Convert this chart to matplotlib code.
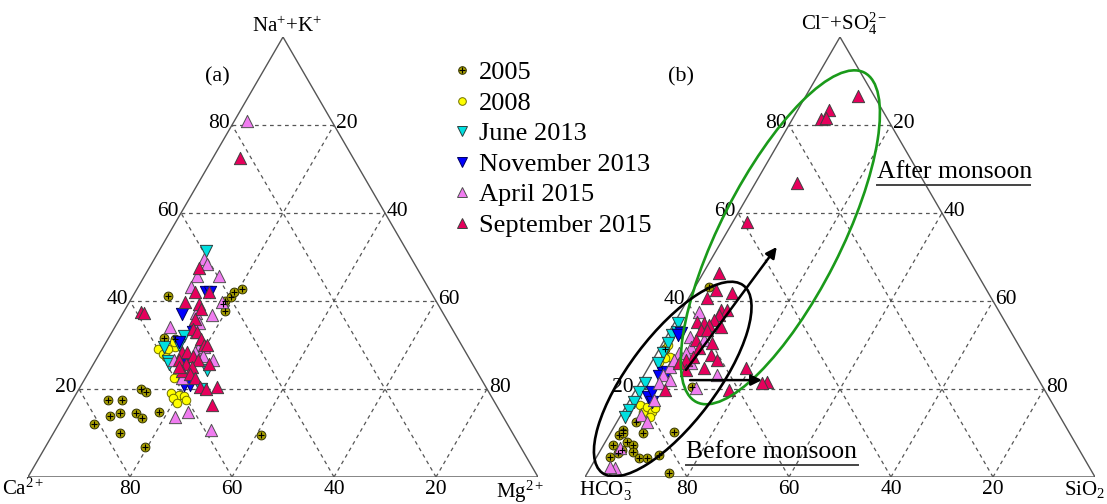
import numpy as np
import matplotlib
matplotlib.use('Agg')
import matplotlib.pyplot as plt
from matplotlib.lines import Line2D
from matplotlib.patches import Ellipse
from matplotlib.legend_handler import HandlerTuple

plt.rcParams['font.family'] = ['Liberation Serif', 'DejaVu Serif']
plt.rcParams['mathtext.fontset'] = 'custom'
plt.rcParams['mathtext.rm'] = 'Liberation Serif'
plt.rcParams['mathtext.it'] = 'Liberation Serif:italic'
plt.rcParams['mathtext.bf'] = 'Liberation Serif:bold'

# (a) cations, % of Na+K (top corner) and % of Mg (right corner)
nak_2005 = [41.1, 40.0, 40.9, 42.0, 42.7, 39.3, 37.7, 31.5, 31.3, 19.9, 19.4, 17.6, 17.4, 13.9, 14.6, 14.6, 13.5, 14.8, 12.1, 10.0, 6.8, 9.6]
mg_2005 = [6.9, 18.7, 19.4, 19.4, 20.6, 18.5, 19.7, 10.9, 13.1, 12.2, 13.5, 6.9, 9.8, 9.2, 10.8, 13.8, 15.6, 18.3, 6.8, 13.1, 19.6, 40.9]
nak_2008 = [29.0, 27.9, 27.2, 29.5, 22.6, 19.2, 18.7, 18.3, 18.0, 16.9, 17.6, 29.0, 30.6]
mg_2008 = [11.0, 12.5, 13.4, 14.0, 17.4, 18.5, 20.2, 21.5, 19.5, 20.7, 22.1, 12.9, 13.4]
nak_jun13 = [51.4, 29.5, 26.3, 25.6, 24.4, 19.9, 32.0, 30.1]
mg_jun13 = [9.2, 11.9, 14.3, 14.9, 22.9, 23.9, 14.6, 14.5]
nak_nov13 = [42.0, 37.0, 30.6, 21.0, 21.0, 26.0, 32.9, 42.0]
mg_nov13 = [13.9, 11.7, 14.3, 20.1, 21.2, 17.9, 15.9, 14.6]
nak_apr15 = [80.8, 49.5, 48.4, 45.7, 45.7, 43.2, 39.7, 36.8, 34.2, 37.2, 32.9, 30.6, 26.7, 26.7, 22.6, 13.7, 14.8, 10.7, 29.0, 29.5, 28.3, 35.0, 27.5]
mg_apr15 = [2.6, 9.7, 10.9, 10.2, 14.6, 10.3, 18.2, 17.6, 10.8, 14.4, 16.4, 18.5, 23.0, 15.3, 18.9, 21.9, 23.9, 30.6, 18.9, 19.8, 18.6, 16.0, 20.5]
nak_sep15 = [72.6, 47.5, 42.0, 42.0, 39.7, 39.3, 37.4, 37.2, 38.1, 35.8, 33.6, 32.9, 31.3, 30.1, 30.1, 28.3, 28.3, 27.4, 26.7, 26.7, 25.6, 25.1, 25.6, 24.0, 23.3, 22.6, 20.5, 19.9, 20.5, 16.4, 25.1]
mg_sep15 = [5.2, 9.7, 11.8, 14.5, 11.0, 13.8, 3.4, 4.2, 14.9, 14.9, 15.5, 16.6, 18.2, 19.4, 20.0, 16.0, 17.1, 18.6, 20.0, 16.2, 18.1, 19.7, 22.7, 18.2, 20.1, 21.5, 23.5, 25.0, 26.9, 27.8, 17.0]

# (b) anions, % of Cl+SO4 (top corner) and % of SiO2 (right corner)
cl_2005 = [12.5, 10.7, 9.5, 7.3, 8.0, 7.3, 6.1, 5.5, 5.7, 4.3, 4.3, 4.5, 5.0, 0.9, 10.2, 10.0, 43.2, 20.5, 29.1, 10.0]
si_2005 = [3.8, 2.1, 2.0, 1.9, 4.2, 5.8, 4.3, 3.7, 6.6, 8.5, 10.1, 2.6, 12.1, 16.1, 12.4, 6.3, 2.8, 10.7, 1.1, 2.4]
cl_2008 = [16.4, 14.8, 15.9, 14.8, 15.7, 13.6, 27.3, 27.0, 26.1, 30.0]
si_2008 = [2.5, 3.9, 4.3, 5.7, 5.8, 5.9, 3.0, 2.1, 1.5, 1.2]
cl_jun13 = [35.0, 33.0, 32.3, 30.5, 28.2, 25.9, 21.4, 19.3, 17.0, 15.2, 13.6]
si_jun13 = [0.8, 1.6, 1.0, 1.0, 1.2, 1.3, 1.0, 1.0, 1.1, 1.0, 1.0]
cl_nov13 = [32.7, 32.3, 23.6, 23.0, 18.2, 17.0, 19.3, 23.9]
si_nov13 = [2.5, 2.0, 3.4, 3.1, 3.2, 4.6, 3.4, 4.1]
cl_apr15 = [37.5, 31.8, 29.5, 28.2, 28.2, 23.2, 25.0, 23.2, 25.9, 14.1, 12.5, 2.0, 2.3, 6.6, 21.4, 22.0, 20.2, 31.1, 26.6, 17.5]
si_apr15 = [3.6, 4.6, 6.1, 4.4, 5.8, 14.3, 4.1, 3.6, 7.9, 4.0, 6.0, 4.8, 3.8, 3.5, 3.9, 5.6, 11.7, 7.8, 4.2, 4.8]
cl_sep15 = [86.6, 83.4, 81.4, 81.6, 66.8, 58.0, 46.4, 42.5, 41.8, 40.7, 38.0, 38.0, 36.8, 35.7, 35.2, 35.0, 34.5, 34.1, 33.4, 33.4, 31.1, 30.5, 29.3, 27.3, 26.6, 27.7, 26.6, 24.8, 24.3, 24.8, 21.6, 21.4, 19.8, 19.8, 25.9]
si_sep15 = [10.3, 6.1, 5.5, 6.4, 8.1, 2.8, 3.1, 4.4, 7.9, 3.5, 7.7, 8.9, 7.9, 7.5, 4.4, 5.9, 7.1, 9.7, 6.1, 7.3, 6.2, 9.6, 7.7, 7.5, 6.6, 10.9, 12.6, 11.0, 7.7, 19.2, 24.9, 24.0, 18.4, 5.7, 5.5]

labels = ['2005', '2008', 'June 2013', 'November 2013', 'April 2015', 'September 2015']
colors = ['#a89f00', '#ffff00', '#00e0e0', '#0000ff', '#f07cf0', '#e6005c']
edges = ['#333300', '#707000', '#2a4040', '#000060', '#505050', '#404040']
markers = ['o', 'o', 'v', 'v', '^', '^']
sizes = [40, 38, 78, 78, 78, 78]

H = 440 / 510.0  # triangle height / base, in pixels of the figure


def tern(top, right):
    t = np.asarray(top) / 100.0
    r = np.asarray(right) / 100.0
    return r + t / 2, t * H


def draw_frame(ax, left_name, right_name, top_name, lab_left_x, lab_right_x):
    ax.set_xlim(0, 1)
    ax.set_ylim(0, H)
    ax.axis('off')
    for k in [0.2, 0.4, 0.6, 0.8]:
        kw = dict(color='#555555', lw=0.9, ls=(0, (3, 3)), zorder=1)
        ax.plot([k / 2, 1 - k / 2], [k * H, k * H], **kw)
        ax.plot([k, k + (1 - k) / 2], [0, (1 - k) * H], **kw)
        ax.plot([1 - k, (1 - k) / 2], [0, (1 - k) * H], **kw)
        n = int(round(k * 100))
        ax.annotate(str(n), (k / 2, k * H), xytext=(-2, 1), textcoords='offset pixels',
                    ha='right', va='center', fontsize=15.5)
        ax.annotate(str(100 - n), (1 - k / 2, k * H), xytext=(2, 1), textcoords='offset pixels',
                    ha='left', va='center', fontsize=15.5)
        ax.annotate(str(100 - n), (k, 0), xytext=(0, -3), textcoords='offset pixels',
                    ha='center', va='top', fontsize=15.5)
    ax.plot([0, 1, 0.5, 0], [0, 0, H, 0], color='#555555', lw=1.0, zorder=1)
    ax.annotate(left_name, (lab_left_x, 0), xytext=(0, -2), textcoords='offset pixels',
                ha='center', va='top', fontsize=15, annotation_clip=False)
    ax.annotate(right_name, (lab_right_x, 0), xytext=(0, -2), textcoords='offset pixels',
                ha='center', va='top', fontsize=15, annotation_clip=False)
    ax.annotate(top_name, (0.5, H), xytext=(4, 0), textcoords='offset pixels',
                ha='center', va='bottom', fontsize=15)


def draw_points(ax, groups):
    for (top, right), c, e, m, s in zip(groups, colors, edges, markers, sizes):
        x, y = tern(top, right)
        ax.scatter(x, y, s=s, marker=m, c=c, edgecolors=e, linewidths=0.7, zorder=3, clip_on=False)
        if c == colors[0]:
            ax.scatter(x, y, s=24, marker='+', c='black', linewidths=0.8, zorder=3.1, clip_on=False)


fig = plt.figure(figsize=(11.07, 5.04), dpi=100)
ax1 = fig.add_axes([28 / 1107, 27 / 504, 510 / 1107, 440 / 504])
ax2 = fig.add_axes([585 / 1107, 27 / 504, 510 / 1107, 440 / 504])

draw_frame(ax1, 'Ca$^{2+}$', 'Mg$^{2+}$', 'Na$^{+}$+K$^{+}$', -0.01, 0.965)
draw_frame(ax2, 'HCO$_3^{-}$', 'SiO$_2$', 'Cl$^{-}$+SO$_4^{2-}$', 0.04, 0.98)

draw_points(ax1, [(nak_2005, mg_2005), (nak_2008, mg_2008), (nak_jun13, mg_jun13),
                  (nak_nov13, mg_nov13), (nak_apr15, mg_apr15), (nak_sep15, mg_sep15)])
draw_points(ax2, [(cl_2005, si_2005), (cl_2008, si_2008), (cl_jun13, si_jun13),
                  (cl_nov13, si_nov13), (cl_apr15, si_apr15), (cl_sep15, si_sep15)])

ax1.text(0.347, 0.784, '(a)', fontsize=16, ha='left', va='center')
ax2.text(0.163, 0.784, '(b)', fontsize=16, ha='left', va='center')

# monsoon groups
ax2.add_patch(Ellipse((0.383, 0.470), 0.725, 0.236, angle=63, fill=False,
                      ec='#1a9a1a', lw=1.9, zorder=4))
ax2.add_patch(Ellipse((0.172, 0.192), 0.46, 0.172, angle=53, fill=False,
                      ec='black', lw=1.9, zorder=4))
arr = dict(arrowstyle='-|>', color='black', lw=1.8, mutation_scale=16, shrinkA=0, shrinkB=0)
ax2.annotate('', xy=(0.376, 0.451), xytext=(0.198, 0.210), arrowprops=arr, zorder=5)
ax2.annotate('', xy=(0.347, 0.190), xytext=(0.206, 0.190), arrowprops=arr, zorder=5)

ax2.text(0.573, 0.598, 'After monsoon', fontsize=18.5, ha='left', va='center')
ax2.plot([0.573, 0.873], [0.572, 0.572], color='#444444', lw=1.4)
ax2.text(0.198, 0.049, 'Before monsoon', fontsize=18.5, ha='left', va='center')
ax2.plot([0.198, 0.535], [0.024, 0.024], color='#444444', lw=1.4)

# legend
handles = []
for c, e, m in zip(colors, edges, markers):
    h = Line2D([], [], ls='none', marker=m, ms=6.5 if m != 'o' else 5.5, mfc=c, mec=e, mew=0.7)
    if c == colors[0]:
        h = (h, Line2D([], [], ls='none', marker='+', ms=4.5, color='black', mew=0.8))
    handles.append(h)
fig.legend(handles, labels, loc='upper left', bbox_to_anchor=(454 / 1107, 1 - 61 / 504),
           frameon=False, fontsize=19, handlelength=0.6, handletextpad=0.35,
           labelspacing=0.265, borderpad=0, borderaxespad=0,
           handler_map={tuple: HandlerTuple(ndivide=1)})

fig.savefig('out.png', dpi=100)
